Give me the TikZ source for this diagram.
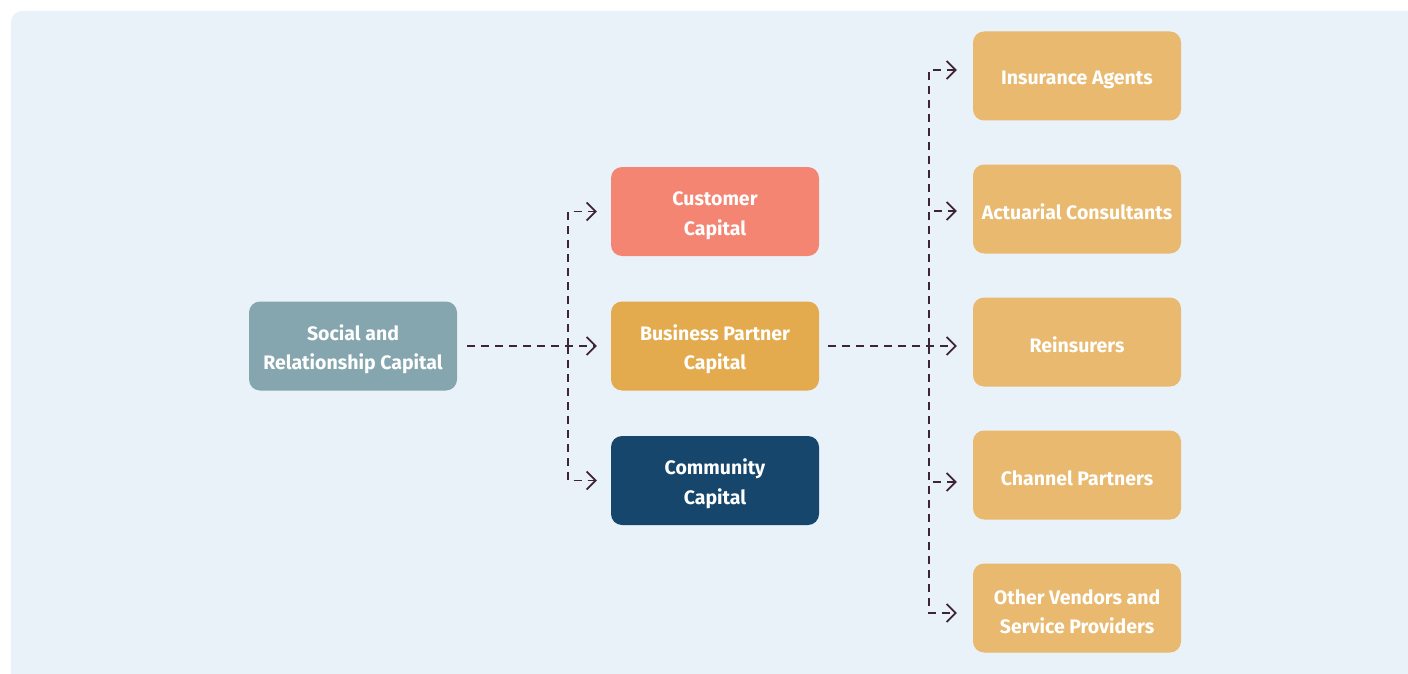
\documentclass[tikz,border=0pt]{standalone}
\usepackage{fontspec}
\setmainfont{Fira Sans}
\usetikzlibrary{arrows.meta, positioning, calc}

\definecolor{panelbg}{HTML}{EAF2F9}
\definecolor{linkcol}{HTML}{3F2439}
\definecolor{socialcol}{HTML}{85A6AE}
\definecolor{custcol}{HTML}{F38572}
\definecolor{partcol}{HTML}{E3AA4E}
\definecolor{commcol}{HTML}{16466C}
\definecolor{leafcol}{HTML}{E8B96E}

% taller first line, so the text sits a bit lower in its box
\newcommand{\lowtext}{\rule{0pt}{22pt}}

\tikzset{
  capbox/.style={rounded corners=11pt, minimum width=208pt, minimum height=89pt,
    align=center, text=white, inner sep=0pt,
    font=\fontsize{19.5}{29.5}\selectfont\bfseries},
  link/.style={draw=linkcol, line width=1.8pt, dash pattern=on 8pt off 6pt,
    -{Straight Barb[length=9pt, width=18pt, line width=1.8pt]}},
}

\begin{document}
\begin{tikzpicture}[x=1pt, y=-1pt]
  \useasboundingbox (0,0) rectangle (1408,674);
  \fill[panelbg, rounded corners=11pt] (11,11) rectangle (1440,700);

  % main node and first level
  \node[capbox, fill=socialcol] (social) at (353,346) {\lowtext Social and\\Relationship Capital};
  \node[capbox, fill=custcol] (cust) at (715,211.5) {\lowtext Customer\\Capital};
  \node[capbox, fill=partcol] (part) at (715,346) {\lowtext Business Partner\\Capital};
  \node[capbox, fill=commcol] (comm) at (715,480.5) {\lowtext Community\\Capital};

  % partner groups
  \node[capbox, fill=leafcol] (agents) at (1077,76) {\lowtext Insurance Agents};
  \node[capbox, fill=leafcol] (actu) at (1077,209) {\lowtext Actuarial Consultants};
  \node[capbox, fill=leafcol] (reins) at (1077,342) {\lowtext Reinsurers};
  \node[capbox, fill=leafcol] (chan) at (1077,475) {\lowtext Channel Partners};
  \node[capbox, fill=leafcol] (other) at (1077,608) {\lowtext Other Vendors and\\Service Providers};

  \coordinate (jl) at (568,346);
  \coordinate (jr) at (929,346);

  \draw[link, shorten <=10pt, shorten >=14pt] (social.east) -- (part.west);
  \draw[link, shorten >=14pt] (jl) |- (cust.west);
  \draw[link, shorten >=14pt] (jl) |- (comm.west);

  \draw[link, shorten <=9pt, shorten >=16pt] (part.east) -- ([yshift=-4pt]reins.west);
  \draw[link, shorten >=16pt] (jr) |- ([yshift=6pt]agents.west);
  \draw[link, shorten >=16pt] (jr) |- ([yshift=-2pt]actu.west);
  \draw[link, shorten >=16pt] (jr) |- ([yshift=-7pt]chan.west);
  \draw[link, shorten >=16pt] (jr) |- ([yshift=-5pt]other.west);
\end{tikzpicture}
\end{document}
